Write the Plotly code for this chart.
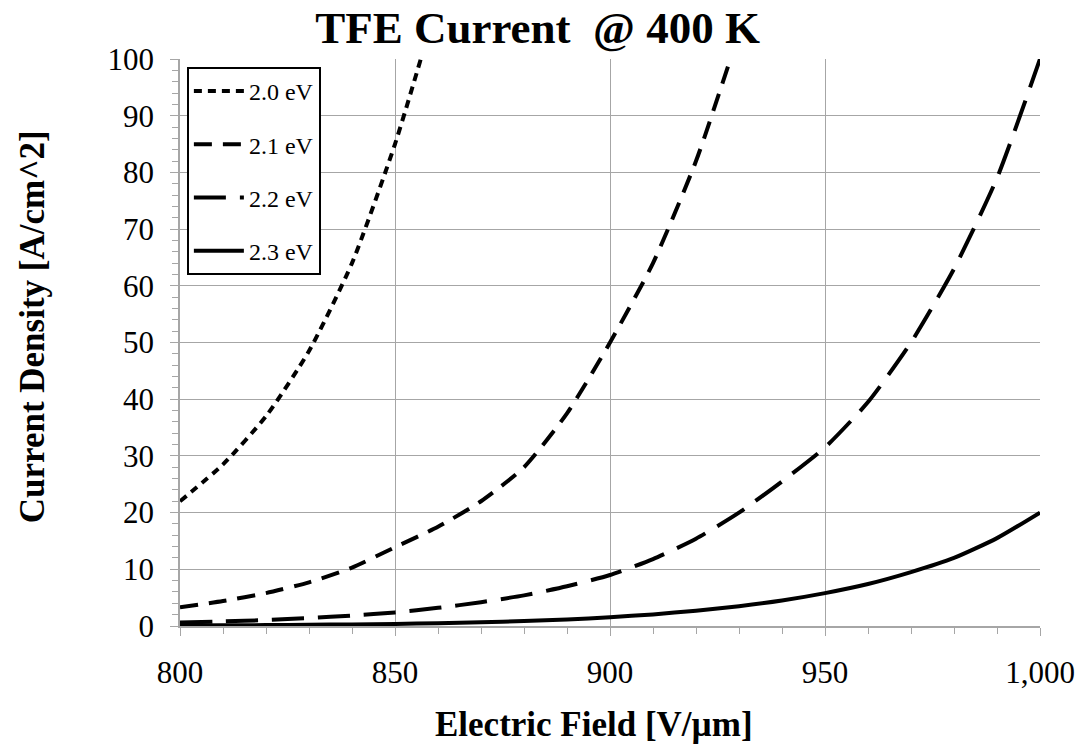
import plotly.graph_objects as go

field = [800, 810, 820, 830, 840, 850, 860, 870, 880, 890, 900, 910, 920, 930, 940, 950, 960, 970, 980, 990, 1000]

# 2.0 eV (goes off-scale after ~856)
field_20 = [800, 810, 820, 830, 840, 850, 856]
j_20 = [22, 28.5, 37, 48.5, 64, 85, 100]

# 2.1 eV (goes off-scale after ~928)
field_21 = [800, 810, 820, 830, 840, 850, 860, 870, 880, 890, 900, 910, 920, 928]
j_21 = [3.3, 4.4, 5.8, 7.7, 10.3, 13.9, 17.5, 22.0, 28.0, 37.5, 50, 64, 82, 100]

j_22 = [0.6, 0.8, 1.05, 1.4, 1.85, 2.4, 3.2, 4.2, 5.4, 7.0, 9.0, 11.8, 15.4, 20, 25.5, 31.5, 39.5, 50, 63, 79, 100]
j_23 = [0.09, 0.12, 0.16, 0.21, 0.28, 0.37, 0.49, 0.65, 0.87, 1.15, 1.55, 2.05, 2.7, 3.5, 4.5, 5.8, 7.4, 9.5, 12.0, 15.5, 20]

labels = ["2.0 eV", "2.1 eV", "2.2 eV", "2.3 eV"]
dashes = ["8px,6px", "18px,11px", "32px,14px", "solid"]

title_text = "TFE Current&nbsp;&nbsp;@ 400 K"
x_title = "Electric Field [V/µm]"
y_title = "Current Density [A/cm^2]"

font = "Liberation Serif, Times New Roman, serif"

fig = go.Figure()
series = [(field_20, j_20), (field_21, j_21), (field, j_22), (field, j_23)]
for i, ((xs, ys), lab, d) in enumerate(zip(series, labels, dashes)):
    fig.add_trace(go.Scatter(
        x=xs, y=ys, mode="lines", name=lab, legendgroup=lab,
        line=dict(color="black", width=4, dash=d, shape="spline", smoothing=0.6),
        cliponaxis=True,
    ))

fig.update_layout(
    width=1086, height=751,
    paper_bgcolor="white", plot_bgcolor="white",
    margin=dict(l=180, r=46, t=59, b=125),
    title=dict(text=f"<b>{title_text}</b>", x=0.495, xanchor="center", y=0.964, yanchor="middle",
               font=dict(family=font, size=45, color="black")),
    font=dict(family=font, color="black"),
    showlegend=True,
    legend=dict(x=0.008, y=0.986, xanchor="left", yanchor="top",
                bgcolor="white", bordercolor="black", borderwidth=2,
                font=dict(family=font, size=24, color="black"),
                traceorder="grouped", tracegroupgap=19, itemwidth=50),
    annotations=[
        dict(text=f"<b>{x_title}</b>", xref="paper", yref="paper", x=0.4814, y=-0.1746,
             xanchor="center", yanchor="middle", showarrow=False,
             font=dict(family=font, size=35, color="black")),
        dict(text=f"<b>{y_title}</b>", xref="paper", yref="paper", x=-0.172, y=0.527,
             xanchor="center", yanchor="middle", showarrow=False, textangle=-90,
             font=dict(family=font, size=35, color="black")),
    ],
)

fig.update_xaxes(
    range=[800, 1000], dtick=50, tick0=800, tickformat=",",
    showgrid=True, gridcolor="#a6a6a6", gridwidth=1,
    showline=True, linecolor="#a6a6a6", linewidth=1.5,
    ticks="outside", ticklen=8, tickcolor="#a6a6a6",
    minor=dict(dtick=10, ticks="outside", ticklen=6, tickcolor="#a6a6a6", showgrid=False),
    tickfont=dict(family=font, size=31, color="black"),
    ticklabelstandoff=10,
    zeroline=False,
)
fig.update_yaxes(
    range=[0, 100], dtick=10,
    showgrid=True, gridcolor="#a6a6a6", gridwidth=1,
    showline=True, linecolor="#a6a6a6", linewidth=1.5,
    ticks="outside", ticklen=8, tickcolor="#a6a6a6",
    minor=dict(dtick=2, ticks="outside", ticklen=6, tickcolor="#a6a6a6", showgrid=False),
    tickfont=dict(family=font, size=31, color="black"),
    ticklabelstandoff=10,
    zeroline=False,
)

fig.write_html("out.html", config={"displayModeBar": False},
               post_script="document.body.style.margin='0px';")
